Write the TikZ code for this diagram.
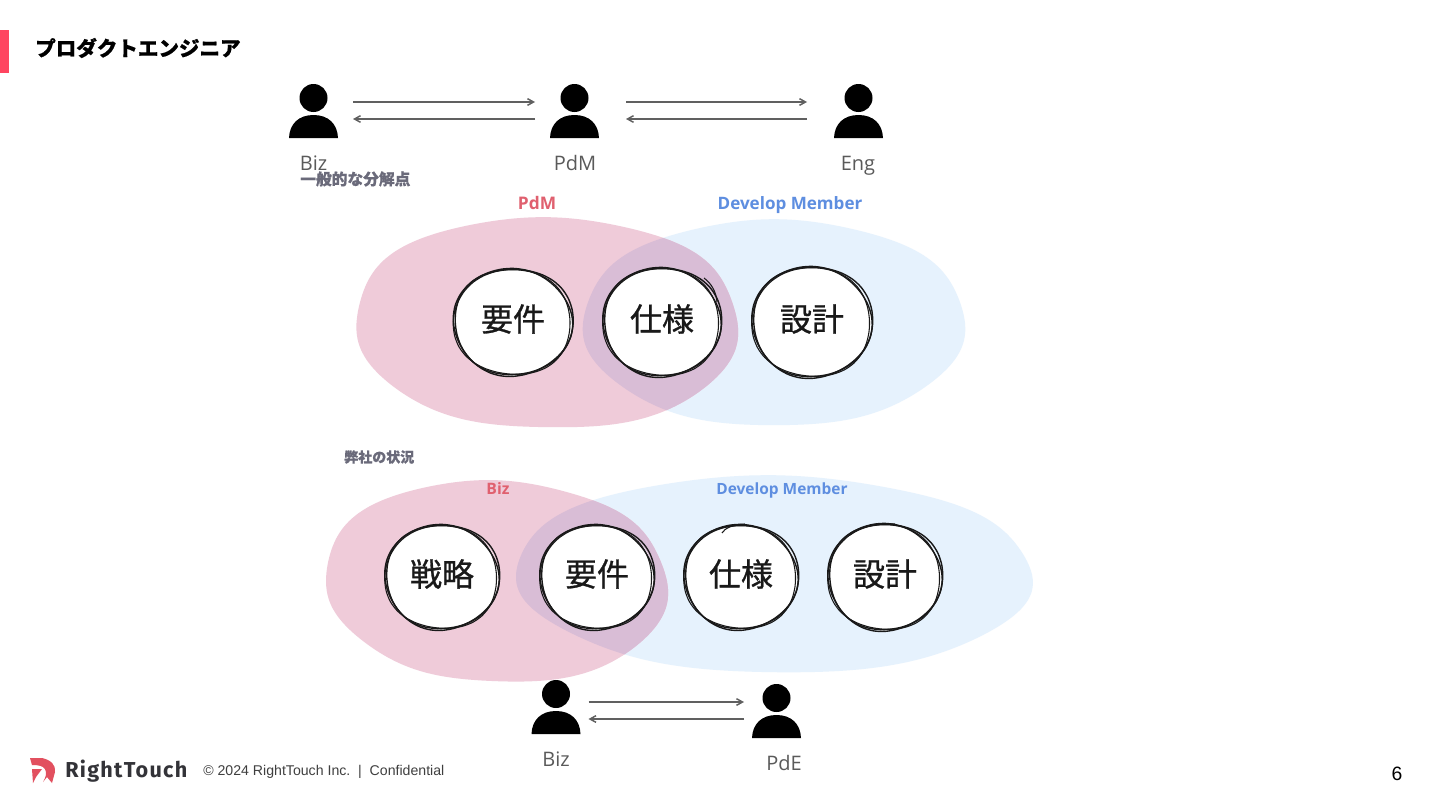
\documentclass[tikz,border=0pt]{standalone}
\usepackage{fontspec}
\usetikzlibrary{arrows.meta,calc,shapes.geometric}
\setmainfont{Liberation Sans}
\newfontfamily\jp[BoldFeatures={FakeBold=0.6}]{Noto Sans CJK JP}
\newfontfamily\jpm[FakeBold=0.9]{Noto Sans CJK JP}
\newfontfamily\nsans{Open Sans}
\newfontfamily\pop[LetterSpace=6]{Fira Sans}
\definecolor{pinkblob}{HTML}{EFCBD9}
\definecolor{blueblob}{HTML}{E6F2FD}
\definecolor{overlapblob}{HTML}{D9BDD6}
\definecolor{barred}{HTML}{FF4560}
\definecolor{labgray}{HTML}{5A5A5A}
\definecolor{subgray}{HTML}{6A6A7A}
\definecolor{arrgray}{HTML}{606060}
\definecolor{pdmred}{HTML}{E0606F}
\definecolor{devblue}{HTML}{5E8EE0}
\definecolor{logored}{HTML}{E2505F}
\definecolor{logotext}{HTML}{333338}
% #1 cx #2 cy #3 rx #4 ry #5 squareness #6 skew
\newcommand\blobpath[6]{plot[smooth cycle,domain=0:355,samples=72] ({#1+(#3)*cos(\x)*(1+(#5)*(1-cos(4*\x))/2+(#6)*sin(2*\x)+0.008*sin(7*\x))},{#2+(#4)*sin(\x)*(1+(#5)*(1-cos(4*\x))/2+(#6)*sin(2*\x)+0.008*sin(7*\x))})}
\newcommand\pinkA{\blobpath{547}{323}{190.5}{105}{0.03}{0.012}}
\newcommand\blueA{\blobpath{774}{323}{191}{103}{0.015}{0.0}}
\newcommand\pinkB{\blobpath{496.5}{581.5}{170.5}{100.5}{0.02}{0.03}}
\newcommand\blueB{\blobpath{774}{574.5}{258}{98.5}{0.01}{0.016}}
\tikzset{
  x=0.75pt,y=-0.75pt,
  personbox/.style={minimum width=36.75pt,minimum height=40.5pt,inner sep=0pt,outer sep=0pt},
  flow/.style={draw=arrgray,line width=1.1pt,-{Straight Barb[length=4.5pt,width=5pt]}},
  sketchline/.style={draw=black!90,line width=1.05pt},
  persontext/.style={font=\nsans\fontsize{15}{18}\selectfont,text=labgray,inner sep=0pt,anchor=base},
  subhead/.style={font=\jp\bfseries\fontsize{11.8}{14}\selectfont,text=subgray,inner sep=0pt},
  bubbletext/.style={font=\jpm\fontsize{24}{27}\selectfont,text=black!90,inner sep=0pt},
}
% #1 name, #2 cx, #3 cy (head-box centre), draws silhouette
\newcommand\person[3]{%
  \node[personbox] (#1) at (#2,#3) {};
  \fill[black] ($(#1.center)+(0,-13)$) circle[radius=10.5pt];
  \fill[black] ($(#1.center)+(-24.5,27)$) .. controls ($(#1.center)+(-24,13)$) and ($(#1.center)+(-15,4)$) .. ($(#1.center)+(0,4)$)
     .. controls ($(#1.center)+(15,4)$) and ($(#1.center)+(24,13)$) .. ($(#1.center)+(24.5,27)$) -- cycle;
}
% #1 name, #2 cx, #3 cy, #4 rx, #5 ry, #6 text
\newcommand\bubble[6]{%
  \fill[white] (#2,#3) ellipse[x radius=#4*0.75pt,y radius=#5*0.75pt];
  \draw[sketchline] plot[smooth cycle,domain=0:348,samples=30] ({#2+(#4)*cos(\x)+1.6*cos(2*\x+40)},{#3+(#5)*sin(\x)+1.4*sin(3*\x+10)});
  \draw[sketchline] plot[smooth cycle,domain=5:353,samples=30] ({#2+(#4)*cos(\x)-1.3*cos(3*\x+120)},{#3+(#5)*sin(\x)+1.3*sin(2*\x+200)});
  \draw[sketchline,line width=0.8pt] plot[smooth cycle,domain=10:358,samples=30] ({#2+(#4-0.6)*cos(\x)+1.6*sin(2*\x+300)},{#3+(#5-0.4)*sin(\x)-1.4*cos(3*\x+70)});
  \node[bubbletext] (#1) at (#2,#3-3) {#6};
}
\begin{document}
\begin{tikzpicture}
\useasboundingbox (0,0) rectangle (1440,810);
\fill[white] (0,0) rectangle (1440,810);
\fill[barred] (0,30) rectangle (9,73);
\node[anchor=west,inner sep=0pt,font=\jp\bfseries\fontsize{15.4}{18}\selectfont,text=black] (title) at (35,48) {プロダクトエンジニア};

% top persons
\person{bizA}{313.5}{111}
\person{pdmA}{574.5}{111}
\person{engA}{858.5}{111}
\draw[flow] ($(bizA.east)+(15,-9)$) -- ($(pdmA.west)+(-15,-9)$);
\draw[flow] ($(pdmA.west)+(-15,8)$) -- ($(bizA.east)+(15,8)$);
\draw[flow] ($(pdmA.east)+(27,-9)$) -- ($(engA.west)+(-27,-9)$);
\draw[flow] ($(engA.west)+(-27,8)$) -- ($(pdmA.east)+(27,8)$);
\node[persontext] (lbiz) at (313.5,170) {Biz};
\node[persontext] (lpdm) at (575,170) {PdM};
\node[persontext] (leng) at (858,170) {Eng};
\node[subhead,anchor=west] (sub1) at (300,179) {一般的な分解点};

% top venn
\fill[blueblob] \blueA;
\fill[pinkblob] \pinkA;
\begin{scope}
\clip \blueA;
\fill[overlapblob] \pinkA;
\end{scope}
\node[anchor=base,font=\nsans\bfseries\fontsize{13}{15}\selectfont,text=pdmred,inner sep=0pt] (tpdm) at (537,209) {PdM};
\node[anchor=base,font=\nsans\bfseries\fontsize{12.8}{15}\selectfont,text=devblue,inner sep=0pt] (tdev) at (790,209) {Develop Member};
\bubble{ca}{513}{322}{59}{54}{要件}
\bubble{cb}{662}{322}{58.5}{55}{仕様}
\bubble{cc}{812}{322}{59.5}{56}{設計}
\draw[sketchline,line width=0.8pt] (704,278) .. controls (712,284) and (716,292) .. (717,302);

% bottom venn
\node[subhead,anchor=west,font=\jp\bfseries\fontsize{10.5}{13}\selectfont] (sub2) at (344,457) {弊社の状況};
\fill[blueblob] \blueB;
\fill[pinkblob] \pinkB;
\begin{scope}
\clip \blueB;
\fill[overlapblob] \pinkB;
\end{scope}
\node[anchor=base,font=\nsans\bfseries\fontsize{11.8}{14}\selectfont,text=pdmred,inner sep=0pt] (tbiz) at (498,494) {Biz};
\node[anchor=base,font=\nsans\bfseries\fontsize{11.6}{14}\selectfont,text=devblue,inner sep=0pt] (tdev2) at (782,494) {Develop Member};
\bubble{da}{442}{577}{56.5}{53}{戦略}
\bubble{db}{597}{577}{56.5}{53}{要件}
\bubble{dc}{741}{577}{56.5}{53}{仕様}
\bubble{dd}{885}{577}{56.5}{54}{設計}
\draw[sketchline,line width=0.8pt] (850,535) .. controls (860,527) and (875,523) .. (895,524);
\draw[sketchline,line width=0.8pt] (722,533) .. controls (725,528) and (732,525) .. (745,524);

% bottom persons
\person{bizB}{556}{707}
\person{pdeB}{776.5}{711}
\draw[flow] ($(bizB.east)+(8,-5)$) -- ($(pdeB.west)+(-8,-9)$);
\draw[flow] ($(pdeB.west)+(-8,8)$) -- ($(bizB.east)+(8,12)$);
\node[persontext] (lbiz2) at (556,766) {Biz};
\node[persontext] (lpde) at (784,770) {PdE};

% footer
\fill[logored] (30,758) -- (42,758) .. controls (51,760) and (56,765) .. (55,772) -- (52,783) -- (47,777) -- (43,782) .. controls (46,777) and (47,773) .. (45,769) .. controls (43,766) and (39,765) .. (32,765) -- cycle;
\fill[logored] (32,769) -- (42,769) -- (36,777) -- (33,783) -- cycle;
\node[anchor=base west,inner sep=0pt,font=\pop\bfseries\fontsize{16.2}{18}\selectfont,text=logotext] (logo) at (65,777.5) {RightTouch};
\node[anchor=base west,inner sep=0pt,font=\fontsize{10.6}{13}\selectfont,text=labgray!70!black] (copy) at (203,775) {© 2024 RightTouch Inc.\ \ |\ \ Confidential};
\node[anchor=base,inner sep=0pt,font=\fontsize{14.5}{17}\selectfont,text=black] (pg) at (1397,780) {6};
\end{tikzpicture}
\end{document}
